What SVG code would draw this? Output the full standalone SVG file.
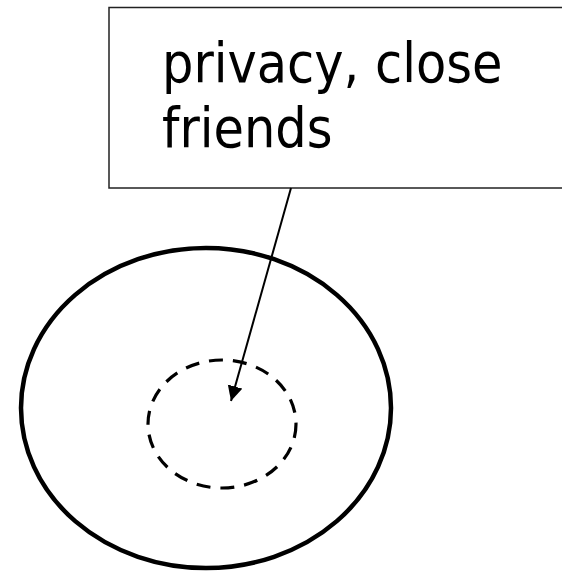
<svg xmlns="http://www.w3.org/2000/svg" width="562" height="571" viewBox="0 0 562 571">
<style>
.lbl{font-family:"DejaVu Sans Condensed","DejaVu Sans",sans-serif;font-size:55px;fill:#000}
.box{fill:#fff;stroke:#222;stroke-width:1.5}
.outer{fill:none;stroke:#000;stroke-width:4.5}
.inner{fill:none;stroke:#000;stroke-width:3.2;stroke-dasharray:14 10}
.conn{stroke:#000;stroke-width:2;fill:none}
</style>
<defs>
<marker id="ah" markerWidth="16" markerHeight="16" refX="15" refY="7.5" orient="auto" markerUnits="userSpaceOnUse">
<path d="M0,0 L15,7.5 L0,15 Z" fill="#000"/>
</marker>
</defs>
<rect width="562" height="571" fill="#fff"/>
<g id="outer-circle"><ellipse class="outer" cx="206" cy="408" rx="185" ry="160"/></g>
<g id="inner-circle"><ellipse class="inner" cx="222" cy="424" rx="74" ry="64"/></g>
<g id="label-box">
<rect class="box" x="109" y="7.5" width="460" height="180.5"/>
<text class="lbl" x="162" y="82">privacy, close</text>
<text class="lbl" x="162" y="147">friends</text>
</g>
<g id="connectors">
<line class="conn" x1="291" y1="188" x2="231" y2="401" marker-end="url(#ah)"/>
</g>
</svg>
